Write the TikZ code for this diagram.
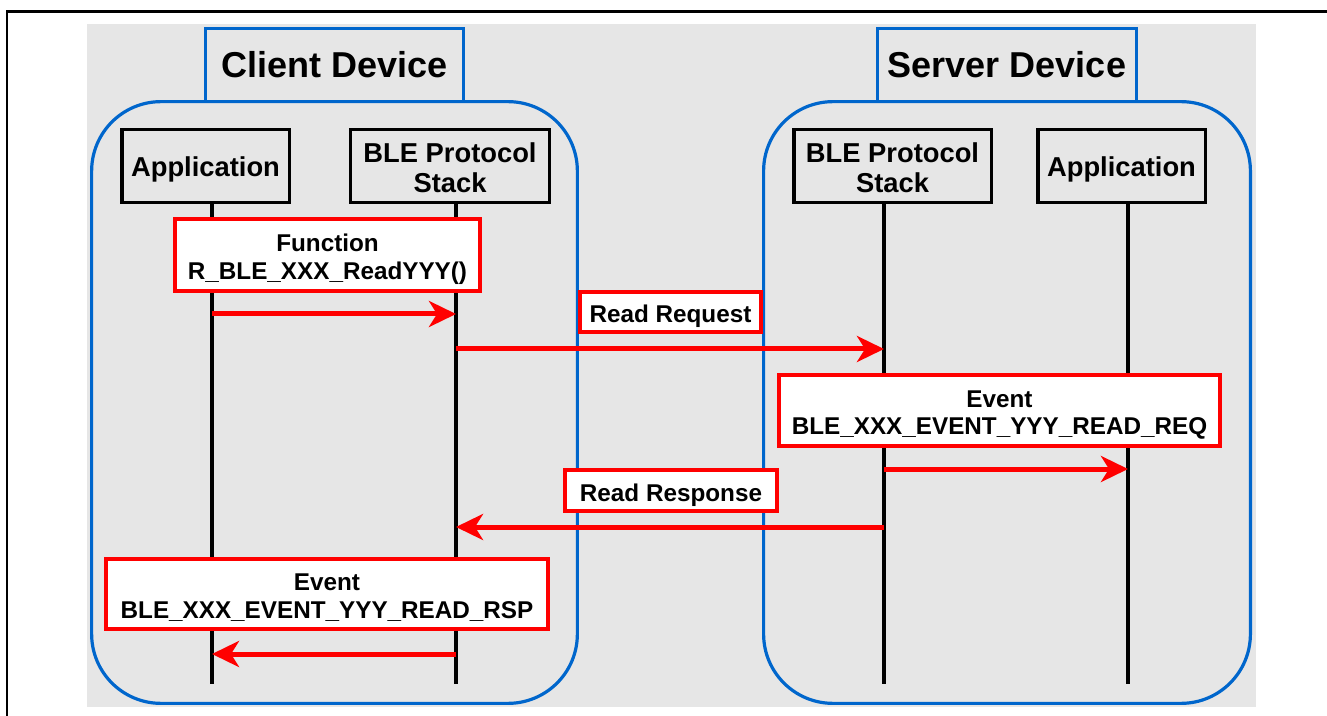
\documentclass[tikz,border=0pt]{standalone}
\usepackage{fontspec}
\setmainfont{Liberation Sans}
\usetikzlibrary{arrows.meta}
\definecolor{bgc}{HTML}{E6E6E6}
\definecolor{bluec}{HTML}{0066CC}
\definecolor{redc}{HTML}{FF0000}
\newcommand{\lowtxt}[2]{\raisebox{-#1}[\height][\depth]{\begin{tabular}{@{}c@{}}#2\end{tabular}}}
\begin{document}
\begin{tikzpicture}[x=0.75pt,y=-0.75pt,
  container/.style={draw=bluec, line width=2.4pt, rounded corners=52pt, fill=bgc, inner sep=0pt},
  devtab/.style={draw=bluec, line width=2.4pt, fill=bgc, inner sep=0pt, minimum height=54.75pt,
    font=\fontsize{27}{32}\selectfont\bfseries},
  hdrbox/.style={draw=black, line width=2.6pt, inner sep=0pt, minimum height=54.4pt,
    font=\fontsize{20.5}{22.5}\selectfont\bfseries},
  msgbox/.style={draw=redc, line width=3.2pt, fill=white, inner sep=0pt,
    font=\fontsize{18.2}{20.7}\selectfont\bfseries},
  lifeline/.style={draw=black, line width=3.4pt},
  msgarrow/.style={draw=redc, line width=3.75pt, -{Stealth[length=20.25pt, width=19.5pt, inset=6pt]}},
  frameline/.style={draw=black, line width=1.9pt}
]
\useasboundingbox (0,0) rectangle (1327,716);

% outer frame
\coordinate (fbl) at (7,716);
\coordinate (ftl) at (7,11.5);
\coordinate (ftr) at (1327,11.5);
\draw[frameline] (fbl) -- (ftl) -- (ftr);

% background
\coordinate (bg1) at (87,24);
\coordinate (bg2) at (1256,707);
\fill[bgc] (bg1) rectangle (bg2);

% containers
\node[container, minimum width=364.3pt, minimum height=451.3pt] (cdev) at (334.5,402.5) {};
\node[container, minimum width=365.1pt, minimum height=451.3pt] (sdev) at (1007,402.5) {};

% tabs
\node[devtab, minimum width=193.3pt] (ctab) at (334.5,65) {Client Device};
\node[devtab, minimum width=194.1pt] (stab) at (1007,65) {Server Device};

% header boxes
\node[hdrbox, minimum width=125.6pt] (capp) at (205.5,166) {\lowtxt{3.1pt}{Application}};
\node[hdrbox, minimum width=148.9pt] (cstk) at (450,166) {\lowtxt{3.95pt}{BLE Protocol\\Stack}};
\node[hdrbox, minimum width=148.1pt] (sstk) at (892.5,166) {\lowtxt{3.95pt}{BLE Protocol\\Stack}};
\node[hdrbox, minimum width=125.6pt] (sapp) at (1121.5,166) {\lowtxt{3.1pt}{Application}};

% lifelines
\coordinate (ca1) at (212,204);  \coordinate (ca2) at (212,684);
\coordinate (cs1) at (456,204);  \coordinate (cs2) at (456,684);
\coordinate (ss1) at (884,204);  \coordinate (ss2) at (884,684);
\coordinate (sa1) at (1128,204); \coordinate (sa2) at (1128,684);
\draw[lifeline] (ca1) -- (ca2);
\draw[lifeline] (cs1) -- (cs2);
\draw[lifeline] (ss1) -- (ss2);
\draw[lifeline] (sa1) -- (sa2);

% message boxes
\node[msgbox, minimum width=228.55pt, minimum height=53.8pt] (func) at (327.5,255) {\lowtxt{3.8pt}{Function\\R\_BLE\_XXX\_ReadYYY()}};
\node[msgbox, minimum width=135.55pt, minimum height=29.8pt] (rreq) at (670.5,312) {\lowtxt{3.8pt}{Read Request}};
\node[msgbox, minimum width=330.55pt, minimum height=53.05pt] (sevt) at (999.5,410.5) {\lowtxt{3.8pt}{Event\\BLE\_XXX\_EVENT\_YYY\_READ\_REQ}};
\node[msgbox, minimum width=158.8pt, minimum height=30.55pt] (rrsp) at (671,490.5) {\lowtxt{3.8pt}{Read Response}};
\node[msgbox, minimum width=331.3pt, minimum height=52.3pt] (cevt) at (327,594) {\lowtxt{3.8pt}{Event\\BLE\_XXX\_EVENT\_YYY\_READ\_RSP}};

% arrows
\coordinate (a1s) at (212,314);  \coordinate (a1e) at (456,314);
\coordinate (a2s) at (456,349);  \coordinate (a2e) at (884,349);
\coordinate (a3s) at (884,469);  \coordinate (a3e) at (1128,469);
\coordinate (a4s) at (884,527);  \coordinate (a4e) at (456,527);
\coordinate (a5s) at (456,654);  \coordinate (a5e) at (212,654);
\draw[msgarrow] (a1s) -- (a1e);
\draw[msgarrow] (a2s) -- (a2e);
\draw[msgarrow] (a3s) -- (a3e);
\draw[msgarrow] (a4s) -- (a4e);
\draw[msgarrow] (a5s) -- (a5e);
\end{tikzpicture}
\end{document}
